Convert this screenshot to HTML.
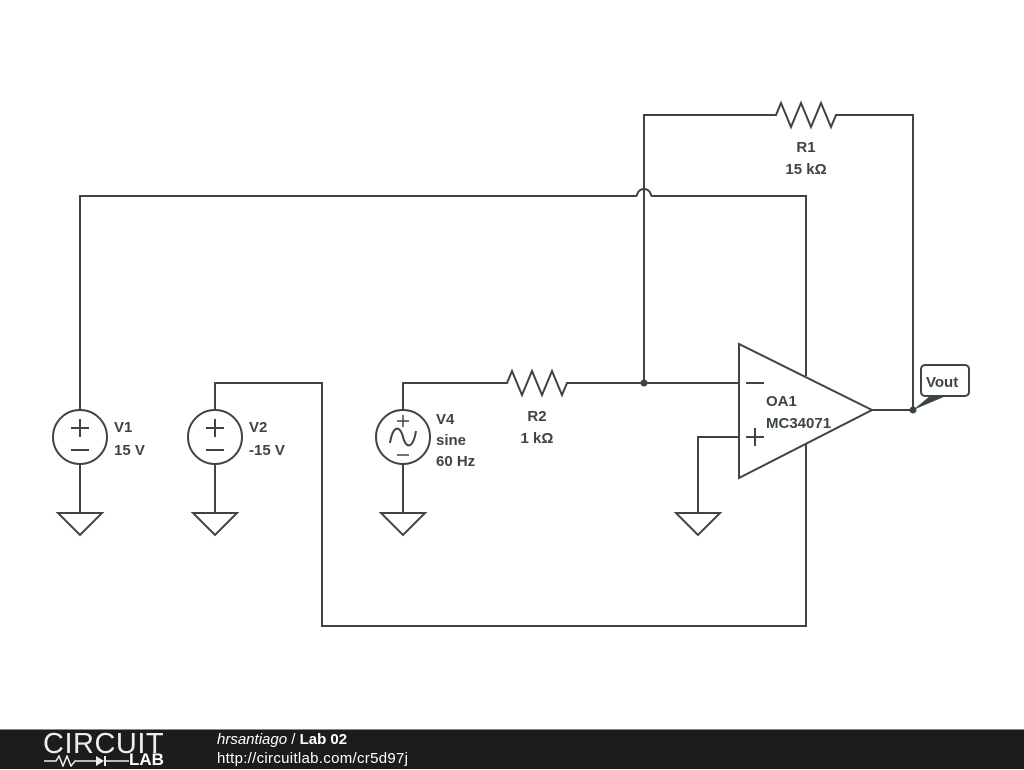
<!DOCTYPE html>
<html><head><style>
body{margin:0;background:#fff;width:1024px;height:768px;overflow:hidden;position:relative;font-family:"Liberation Sans",sans-serif}
.ft{position:absolute;left:0;top:729px;width:1024px;height:39px;background:#1c1c1c;border-top:1px solid #888}
</style></head><body>
<svg width="1024" height="729" style="position:absolute;left:0;top:0" font-family="Liberation Sans, sans-serif" font-weight="bold" font-size="15" fill="#3d4447">
<g stroke="#3d4447" stroke-width="2" fill="none">
<polyline points="80,410 80,196 637,196"/>
<path d="M637,196 A7,7 0 0 1 651,196"/>
<polyline points="651,196 806,196 806,376"/>
<circle cx="80" cy="437" r="27"/>
<line x1="80" y1="464" x2="80" y2="513"/>
<polygon points="58,513 102,513 80,535"/>
<circle cx="215" cy="437" r="27"/>
<polyline points="215,410 215,383 322,383 322,626 806,626 806,444"/>
<line x1="215" y1="464" x2="215" y2="513"/>
<polygon points="193,513 237,513 215,535"/>
<circle cx="403" cy="437" r="27"/>
<polyline points="403,410 403,383 507,383 512,371 522,395 532,371 542,395 552,371 562,395 567,383 739,383"/>
<line x1="403" y1="464" x2="403" y2="513"/>
<polygon points="381,513 425,513 403,535"/>
<path d="M390,443 C393,425 400,425 403,437 C406,449 413,449 416,431"/>
<polyline points="644,383 644,115 776,115 781,103 791,127 801,103 811,127 821,103 831,127 836,115 913,115 913,410"/>
<polygon points="739,344 739,478 872,410"/>
<line x1="872" y1="410" x2="913" y2="410"/>
<polyline points="739,437 698,437 698,513"/>
<polygon points="676,513 720,513 698,535"/>
<line x1="746" y1="383" x2="764" y2="383"/>
<line x1="746" y1="437" x2="764" y2="437"/><line x1="755" y1="428" x2="755" y2="446"/>
<line x1="71" y1="428" x2="89" y2="428"/><line x1="80" y1="419" x2="80" y2="437"/><line x1="71" y1="450" x2="89" y2="450"/>
<line x1="206" y1="428" x2="224" y2="428"/><line x1="215" y1="419" x2="215" y2="437"/><line x1="206" y1="450" x2="224" y2="450"/>
<line x1="397" y1="421" x2="409" y2="421" stroke-width="1.5"/><line x1="403" y1="415" x2="403" y2="427" stroke-width="1.5"/><line x1="397" y1="455" x2="409" y2="455" stroke-width="1.5"/>
<rect x="921" y="365" width="48" height="31" rx="4" fill="#fff"/>
</g>
<circle cx="644" cy="383" r="3.5"/>
<circle cx="913" cy="410" r="3.5"/>
<polygon points="913,410 930,396 946,396"/>
<text x="926" y="387" font-size="15">Vout</text>
<text x="114" y="432">V1</text><text x="114" y="455">15 V</text>
<text x="249" y="432">V2</text><text x="249" y="455">-15 V</text>
<text x="436" y="424">V4</text><text x="436" y="445">sine</text><text x="436" y="466">60 Hz</text>
<text x="537" y="421" text-anchor="middle">R2</text><text x="537" y="443" text-anchor="middle">1 kΩ</text>
<text x="806" y="152" text-anchor="middle">R1</text><text x="806" y="174" text-anchor="middle">15 kΩ</text>
<text x="766" y="406">OA1</text><text x="766" y="428">MC34071</text>
</svg>
<div class="ft">
<div style="position:absolute;left:43px;top:-2px;color:#eee;font-size:29px;letter-spacing:0.5px">CIRCUIT</div>
<div style="position:absolute;left:129px;top:20px;color:#fff;font-size:17px;font-weight:bold">LAB</div>
<svg width="90" height="12" style="position:absolute;left:44px;top:25px"><polyline points="0,6 12,6 15,1 19,11 23,1 27,11 31,6 52,6" stroke="#eee" stroke-width="1.5" fill="none"/><polygon points="52,1 52,11 60,6" fill="#eee"/><line x1="61" y1="1" x2="61" y2="11" stroke="#eee" stroke-width="2"/><line x1="61" y1="6" x2="85" y2="6" stroke="#eee" stroke-width="1.5"/></svg>
<div style="position:absolute;left:217px;top:1px;color:#fff;font-size:15px"><i>hrsantiago</i> / <b>Lab 02</b></div>
<div style="position:absolute;left:217px;top:20px;color:#fff;font-size:15px;letter-spacing:0.3px">http://circuitlab.com/cr5d97j</div>
</div>
</body></html>
